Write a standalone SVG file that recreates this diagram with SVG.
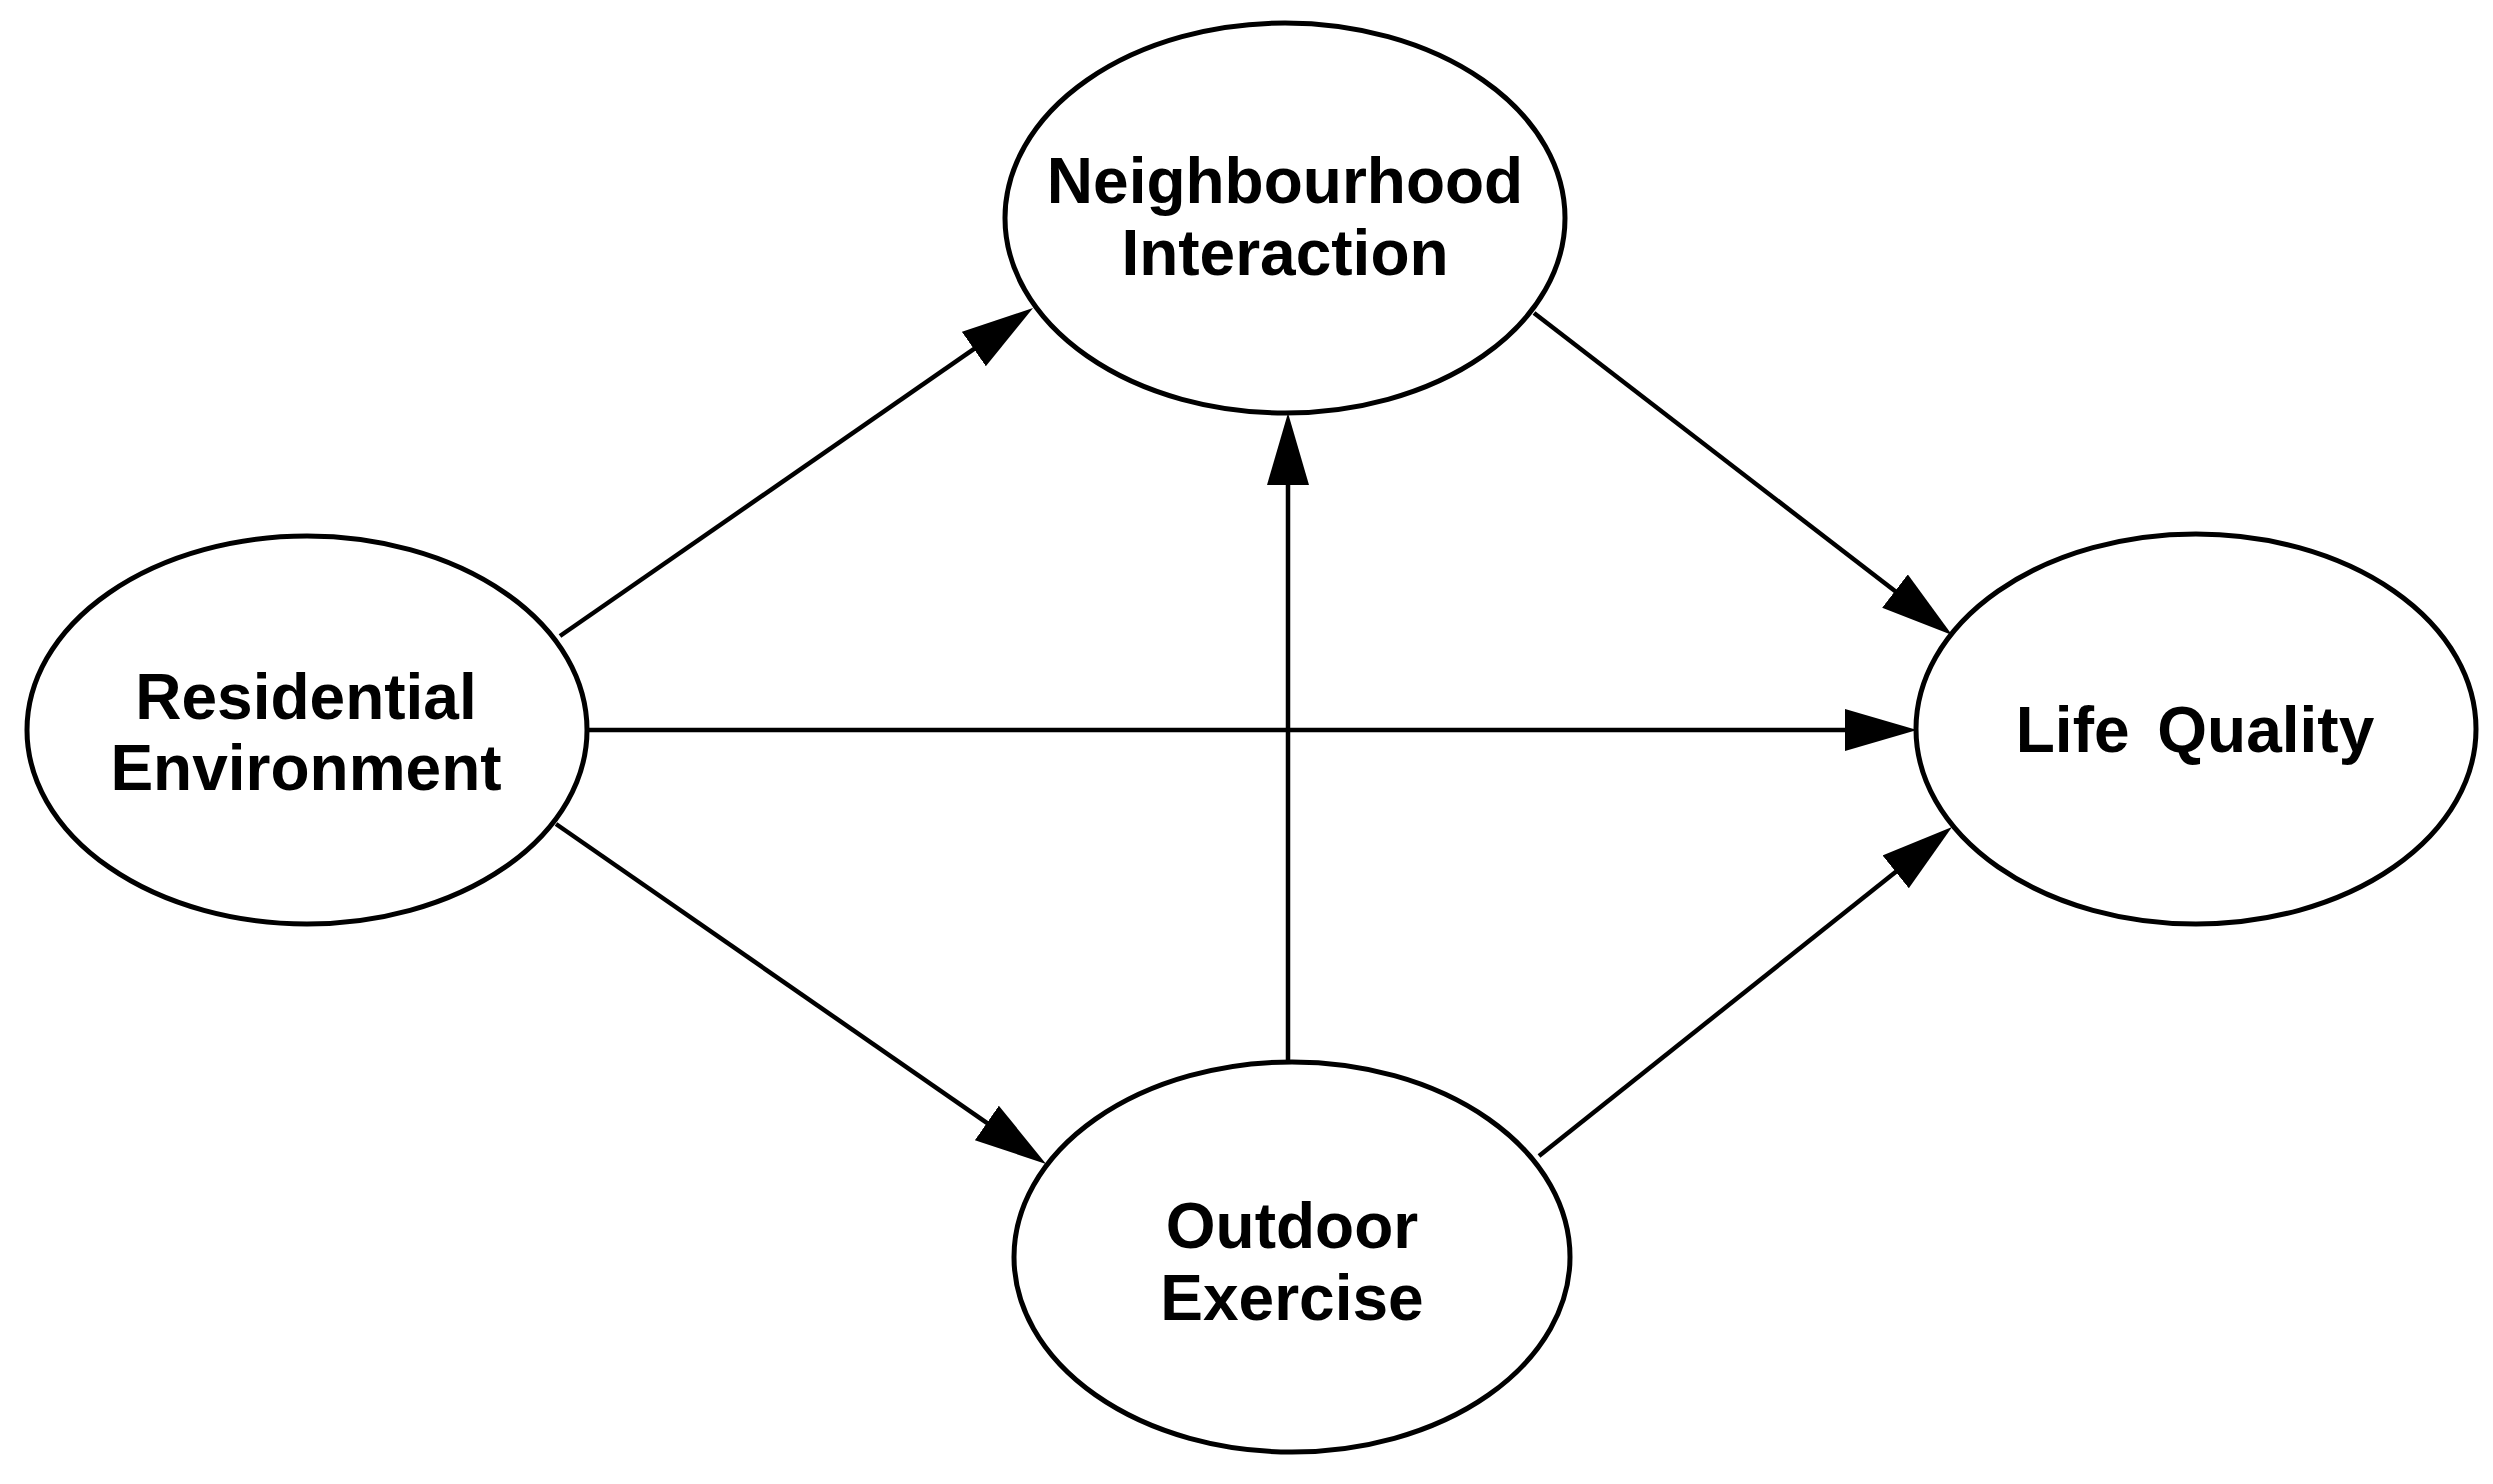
<svg xmlns="http://www.w3.org/2000/svg" width="2493" height="1484" viewBox="0 0 2493 1484">
<style>
.node ellipse{fill:#fff;stroke:#000;stroke-width:5}
.node text{font-family:"Liberation Sans",Arial,sans-serif;font-weight:bold;font-size:64px;fill:#000;text-anchor:middle}
.edge{stroke:#000;stroke-width:4.5;fill:none;marker-end:url(#arrow)}
</style>
<defs>
<marker id="arrow" markerUnits="userSpaceOnUse" markerWidth="80" markerHeight="50" refX="52" refY="21" orient="auto">
<path d="M0,0 L72,21 L0,42 z" fill="#000"/>
</marker>
</defs>
<rect width="2493" height="1484" fill="#fff"/>
<g id="connectors">
<line class="edge" x1="560" y1="636" x2="1016.6" y2="319.4"/>
<line class="edge" x1="1534" y1="313" x2="1936.2" y2="622.8"/>
<line class="edge" x1="587" y1="730" x2="1897" y2="730"/>
<line class="edge" x1="556" y1="824" x2="1029.6" y2="1152.6"/>
<line class="edge" x1="1288" y1="1062" x2="1288" y2="433"/>
<line class="edge" x1="1539" y1="1156" x2="1936.4" y2="839.5"/>
</g>
<g id="neighbourhood-interaction" class="node">
<ellipse cx="1285" cy="218" rx="280" ry="195"/>
<text x="1285" y="203">Neighbourhood</text>
<text x="1285" y="275">Interaction</text>
</g>
<g id="residential-environment" class="node">
<ellipse cx="307" cy="730" rx="280" ry="194"/>
<text x="306" y="719">Residential</text>
<text x="306" y="790">Environment</text>
</g>
<g id="life-quality" class="node">
<ellipse cx="2196" cy="729" rx="280" ry="195"/>
<text x="2195" y="752" style="word-spacing:10px">Life Quality</text>
</g>
<g id="outdoor-exercise" class="node">
<ellipse cx="1292" cy="1257" rx="278" ry="195"/>
<text x="1292" y="1248">Outdoor</text>
<text x="1292" y="1320">Exercise</text>
</g>
</svg>
